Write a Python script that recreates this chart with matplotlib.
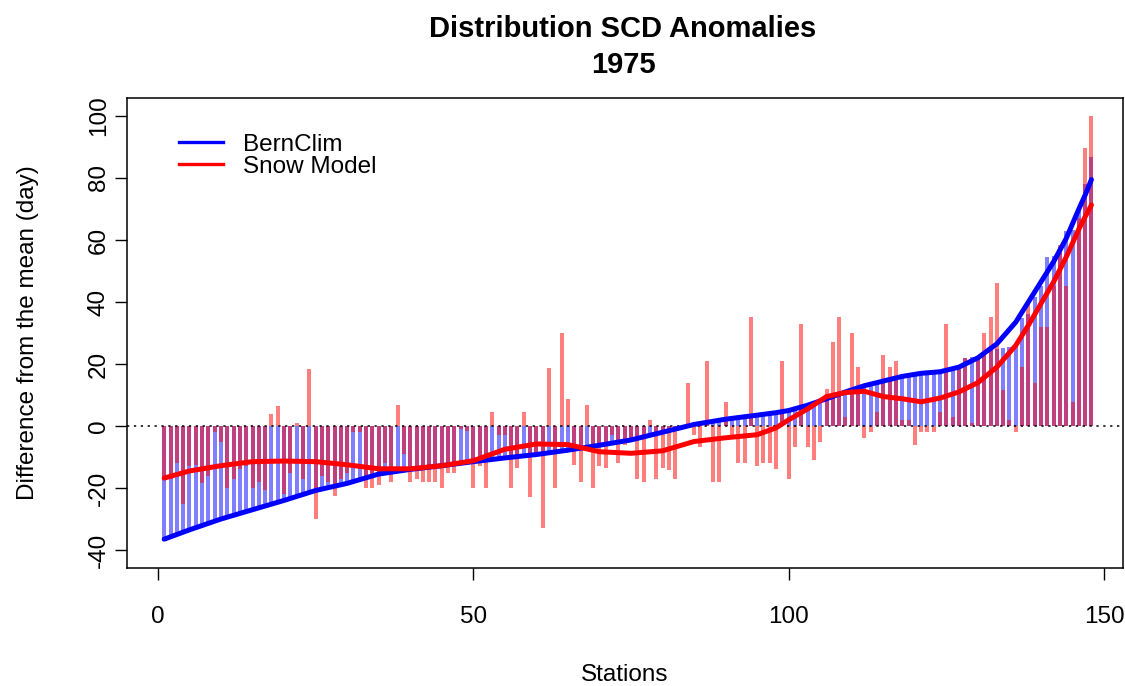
import matplotlib
matplotlib.use("Agg")
import matplotlib.pyplot as plt
import numpy as np
from matplotlib.lines import Line2D

plt.rcParams["font.family"] = ["Liberation Sans", "DejaVu Sans"]
plt.rcParams["axes.unicode_minus"] = False

## anomalies per station (days), stations sorted by BernClim
bernclim = [
    -37, -35.5, -35, -34, -33.5, -32.5, -32, -31.5, -30.5, -30,
    -29.5, -29, -28.5, -28, -27, -26.5, -26, -25, -24.5, -24,
    -23.5, -23, -22.5, -22, -21, -20.5, -20, -19.5, -19, -18.5,
    -18, -17.5, -17, -16.5, -16, -15.5, -15, -14.5, -14, -14,
    -13.7, -13.5, -13.2, -13, -12.8, -12.5, -12.3, -12, -11.8, -11.5,
    -11.3, -11, -10.8, -10.5, -10.2, -10, -9.7, -9.5, -9.2, -9,
    -8.8, -8.5, -8.2, -8, -7.7, -7.4, -7, -6.7, -6.3, -6,
    -5.6, -5.2, -4.8, -4.4, -4, -3.5, -3, -2.5, -2, -1.5,
    -1, -0.7, -0.3, 0.2, 0.5, 1, 1.3, 1.7, 2, 2.3,
    2.6, 2.9, 3.1, 3.4, 3.7, 4, 4.3, 4.6, 5, 5.4,
    5.9, 6.4, 6.9, 7.4, 8, 8.7, 9.4, 10, 10.7, 11.4,
    12, 12.6, 13.1, 13.6, 14.1, 14.6, 15, 15.4, 15.8, 16.2,
    16.5, 16.8, 17.1, 17.5, 18, 18.5, 19, 22, 22.3, 22.5,
    23, 24.5, 25, 25.3, 25.6, 26, 34.8, 36, 41.7, 45,
    54.6, 54.8, 57.8, 63, 63.2, 70, 78, 86.9,
]
snow_model = [
    -17, -17, -12, -25, -13, -12.5, -18.5, -16, -2, -5,
    -20, -17, -14, -13, -20, -18, -20.5, 4, 6.5, -22,
    -15, 1, -17, 18.5, -30, -16, -18, -22.5, -17, -15,
    -2, -2, -20, -20, -19, -12, -18, 6.8, -9, -18,
    -17, -18, -18, -18, -20, -15, -15, -1, -1.5, -20,
    -13, -20, 4.6, -3, -3, -20, -13.6, 4.6, -23, -9,
    -33, 18.8, -20, 30, 8.6, -12.6, -18, 6.7, -20, -12.8,
    -13.7, -3, -11.8, -6, -5, -17, -18, 1.8, -17, -13.7,
    -14.2, -17.2, -1, 13.8, -2.9, -6.7, 21, -18, -18, 7.7,
    -3.4, -11.8, -11.8, 35, -13, -12, -12, -14, 21, -17,
    -6.7, 33, -6.7, -11, -5, 11.8, 27, 35, 3, 30,
    19, -4, -2, 4.6, 23, 19, 21, 2, 2, -6,
    -2, -2, -1.8, 4.6, 33, 3, 19, 22, 1, 22,
    30, 35, 46, 11.6, 2, -1.8, 19, 40, 13.8, 32,
    32, 45, 58.5, 45, 7.8, 67, 89.6, 100,
]

## smoothed curves
smooth_x = [1, 5, 10, 15, 20, 25, 30, 35, 40, 45, 50, 55, 60, 65, 70, 75,
            80, 85, 90, 95, 98, 100, 103, 106, 109, 112, 115, 118, 121, 124,
            127, 130, 133, 136, 138, 140, 142, 144, 146, 147, 148]
bern_smooth = [-36.5, -33.5, -30, -27, -24, -20.8, -18.5, -15.5, -14, -12.8,
               -11.5, -10.3, -9.2, -7.8, -6.2, -4.5, -2, 0.5, 2.2, 3.5, 4.3,
               5, 6.7, 8.8, 11, 13, 14.5, 16, 17, 17.5, 19, 22, 26.5, 33.5,
               40, 46.5, 53, 60.5, 70, 74.5, 79.5]
snow_smooth = [-16.8, -14.5, -12.8, -11.5, -11.3, -11.5, -12.5, -13.8, -13.8,
               -12.8, -11.2, -7.5, -5.8, -6, -8.3, -8.8, -8, -5, -3.8, -2.8,
               -0.6, 2, 5.5, 9.5, 10.8, 11.2, 9.5, 8.8, 7.8, 9, 11, 14, 19,
               26, 32.5, 39.5, 46.5, 54.5, 63.5, 67.5, 71.3]

series_names = ["BernClim", "Snow Model"]

stations = np.arange(1, len(bernclim) + 1)

fig = plt.figure(figsize=(11.25, 6.86), dpi=100)
ax = fig.add_axes([127 / 1125, 118 / 686, 996 / 1125, 470 / 686])

ax.vlines(stations, 0, bernclim, colors=(0, 0, 1, 0.5), linewidth=2.9)
ax.vlines(stations, 0, snow_model, colors=(1, 0, 0, 0.5), linewidth=2.9)
ax.axhline(0, color="black", linewidth=1.1, linestyle=(0, (1.5, 3)))
ax.plot(smooth_x, bern_smooth, color="blue", linewidth=3.6, solid_capstyle="round")
ax.plot(smooth_x, snow_smooth, color="red", linewidth=3.6, solid_capstyle="round")

ax.set_xlim(-4.9, 153.0)
ax.set_ylim(-45.8, 105.8)
ax.set_xticks([0, 50, 100, 150])
ax.set_yticks(np.arange(-40, 101, 20))
ax.tick_params(axis="both", direction="out", length=8.5, width=1, labelsize=17.5)
ax.tick_params(axis="x", pad=19)
ax.tick_params(axis="y", pad=4)
plt.setp(ax.get_yticklabels(), rotation=90, va="center")
for s in ax.spines.values():
    s.set_linewidth(1.1)

ax.set_xlabel("Stations", fontsize=17.5, labelpad=26)
ax.set_ylabel("Difference from the mean (day)", fontsize=17.5, labelpad=35)
fig.suptitle("Distribution SCD Anomalies\n1975", x=623 / 1125, y=0.978,
             fontsize=21, fontweight="bold", linespacing=1.35)

handles = [Line2D([], [], color="blue", linewidth=2.4),
           Line2D([], [], color="red", linewidth=2.4)]
ax.legend(handles, series_names, loc="upper left", bbox_to_anchor=(0.035, 0.96),
          frameon=False, fontsize=17.5, handlelength=1.8, handletextpad=0.85,
          labelspacing=0.0, borderpad=0.2)

fig.savefig("out.png", dpi=100)
